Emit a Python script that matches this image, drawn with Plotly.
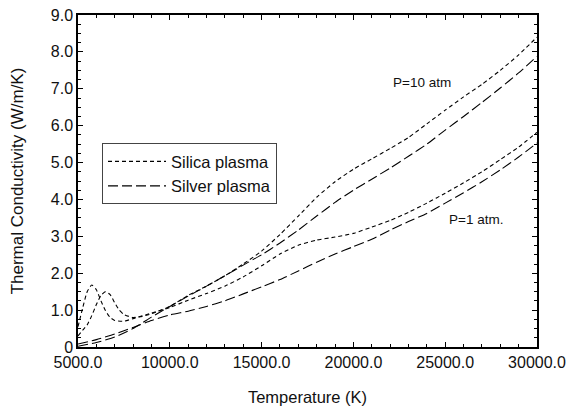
import plotly.graph_objects as go

# ---------------- data ----------------
T_silica_1 = [5000, 5250, 5500, 5750, 6000, 6250, 6500, 6750, 7000, 7500, 8000, 9000, 10000,
              11000, 12000, 13000, 14000, 15000, 16000, 17000, 18000, 19000, 20000, 21000,
              22000, 23000, 24000, 25000, 26000, 27000, 28000, 29000, 30000]
k_silica_1 = [0.55, 1.05, 1.50, 1.68, 1.55, 1.25, 0.98, 0.80, 0.72, 0.70, 0.77, 0.92, 1.07,
              1.27, 1.45, 1.65, 1.90, 2.20, 2.52, 2.76, 2.90, 2.98, 3.08, 3.25,
              3.43, 3.65, 3.90, 4.17, 4.45, 4.75, 5.08, 5.42, 5.82]

T_silica_10 = [5000, 5250, 5500, 5750, 6000, 6250, 6500, 6750, 7000, 7250, 7500, 8000, 8500, 9000,
               10000, 11000, 12000, 13000, 14000, 15000, 16000, 17000, 18000, 19000, 20000,
               21000, 22000, 23000, 24000, 25000, 26000, 27000, 28000, 29000, 30000]
k_silica_10 = [0.30, 0.45, 0.60, 0.85, 1.15, 1.40, 1.50, 1.42, 1.20, 1.00, 0.88, 0.80, 0.83, 0.90,
               1.10, 1.40, 1.65, 1.93, 2.25, 2.60, 3.05, 3.55, 4.06, 4.48, 4.82,
               5.10, 5.38, 5.68, 6.05, 6.42, 6.78, 7.12, 7.50, 7.92, 8.40]

T_silver = [5000, 6000, 7000, 8000, 9000, 10000, 11000, 12000, 13000, 14000, 15000, 16000,
            17000, 18000, 19000, 20000, 21000, 22000, 23000, 24000, 25000, 26000, 27000,
            28000, 29000, 30000]
k_silver_1 = [0.08, 0.20, 0.35, 0.53, 0.72, 0.87, 0.97, 1.10, 1.25, 1.44, 1.63, 1.83,
              2.06, 2.30, 2.52, 2.72, 2.92, 3.17, 3.40, 3.62, 3.90, 4.18, 4.48,
              4.80, 5.15, 5.53]
k_silver_10 = [0.02, 0.12, 0.27, 0.50, 0.81, 1.10, 1.38, 1.65, 1.93, 2.22, 2.50, 2.82,
               3.17, 3.55, 3.92, 4.25, 4.55, 4.85, 5.17, 5.50, 5.88, 6.25, 6.63,
               7.02, 7.43, 7.88]

y_tick_vals = [0, 1, 2, 3, 4, 5, 6, 7, 8, 9]
y_tick_text = ["0", "1.0", "2.0", "3.0", "4.0", "5.0", "6.0", "7.0", "8.0", "9.0"]
x_tick_vals = [5000, 10000, 15000, 20000, 25000, 30000]

labels = ["Silica plasma", "Silver plasma"]
pressure_notes = ["P=10 atm", "P=1 atm."]
note_T = [23750, 26700]
note_k = [7.17, 3.45]

# ---------------- figure ----------------
FONT = "Liberation Sans, Arial, sans-serif"
short_dash = "4px,3px"
long_dash = "10px,4px"

fig = go.Figure()
fig.add_trace(go.Scatter(x=T_silica_1, y=k_silica_1, mode="lines", name=labels[0],
                         legendgroup="silica", showlegend=True,
                         line=dict(color="black", width=1.1, dash=short_dash,
                                   shape="spline", smoothing=0.5)))
fig.add_trace(go.Scatter(x=T_silver, y=k_silver_1, mode="lines", name=labels[1],
                         legendgroup="silver", showlegend=True,
                         line=dict(color="black", width=1.1, dash=long_dash,
                                   shape="spline", smoothing=0.5)))
fig.add_trace(go.Scatter(x=T_silica_10, y=k_silica_10, mode="lines", name=labels[0],
                         legendgroup="silica", showlegend=False,
                         line=dict(color="black", width=1.1, dash=short_dash,
                                   shape="spline", smoothing=0.5)))
fig.add_trace(go.Scatter(x=T_silver, y=k_silver_10, mode="lines", name=labels[1],
                         legendgroup="silver", showlegend=False,
                         line=dict(color="black", width=1.1, dash=long_dash,
                                   shape="spline", smoothing=0.5)))

for txt, tx, ky in zip(pressure_notes, note_T, note_k):
    fig.add_annotation(x=tx, y=ky, text=txt, showarrow=False,
                       font=dict(family=FONT, size=13.5, color="#111"))

fig.update_xaxes(range=[5000, 30000], tickvals=x_tick_vals, tickformat=".1f",
                 ticks="inside", ticklen=5, tickwidth=1, tickcolor="black",
                 minor=dict(tickmode="linear", tick0=5000, dtick=1000, ticklen=3,
                            tickcolor="black", ticks="inside"),
                 showline=True, linecolor="black", linewidth=1.5, mirror="ticks",
                 showgrid=False, zeroline=False, automargin=False,
                 tickfont=dict(family=FONT, size=16, color="#111"),
                 title=dict(text="Temperature (K)", standoff=21,
                            font=dict(family=FONT, size=16.5, color="#111")))
fig.update_yaxes(range=[0, 9], tickvals=y_tick_vals, ticktext=y_tick_text,
                 ticks="inside", ticklen=5, tickwidth=1, tickcolor="black",
                 minor=dict(tickmode="linear", tick0=0, dtick=0.25, ticklen=3,
                            tickcolor="black", ticks="inside"),
                 showline=True, linecolor="black", linewidth=1.5, mirror="ticks",
                 showgrid=False, zeroline=False, automargin=False,
                 tickfont=dict(family=FONT, size=16, color="#111"),
                 title=dict(text="Thermal Conductivity (W/m/K)", standoff=23,
                            font=dict(family=FONT, size=17, color="#111")))

fig.update_layout(
    width=570, height=410,
    margin=dict(l=78, r=33, t=15, b=63, autoexpand=False),
    paper_bgcolor="white", plot_bgcolor="white",
    legend=dict(x=0.0523, y=0.614, xanchor="left", yanchor="top",
                bgcolor="white", bordercolor="#444", borderwidth=1,
                font=dict(family=FONT, size=16.5, color="#111"),
                itemwidth=58, tracegroupgap=0),
)

fig.write_html("out.html")
